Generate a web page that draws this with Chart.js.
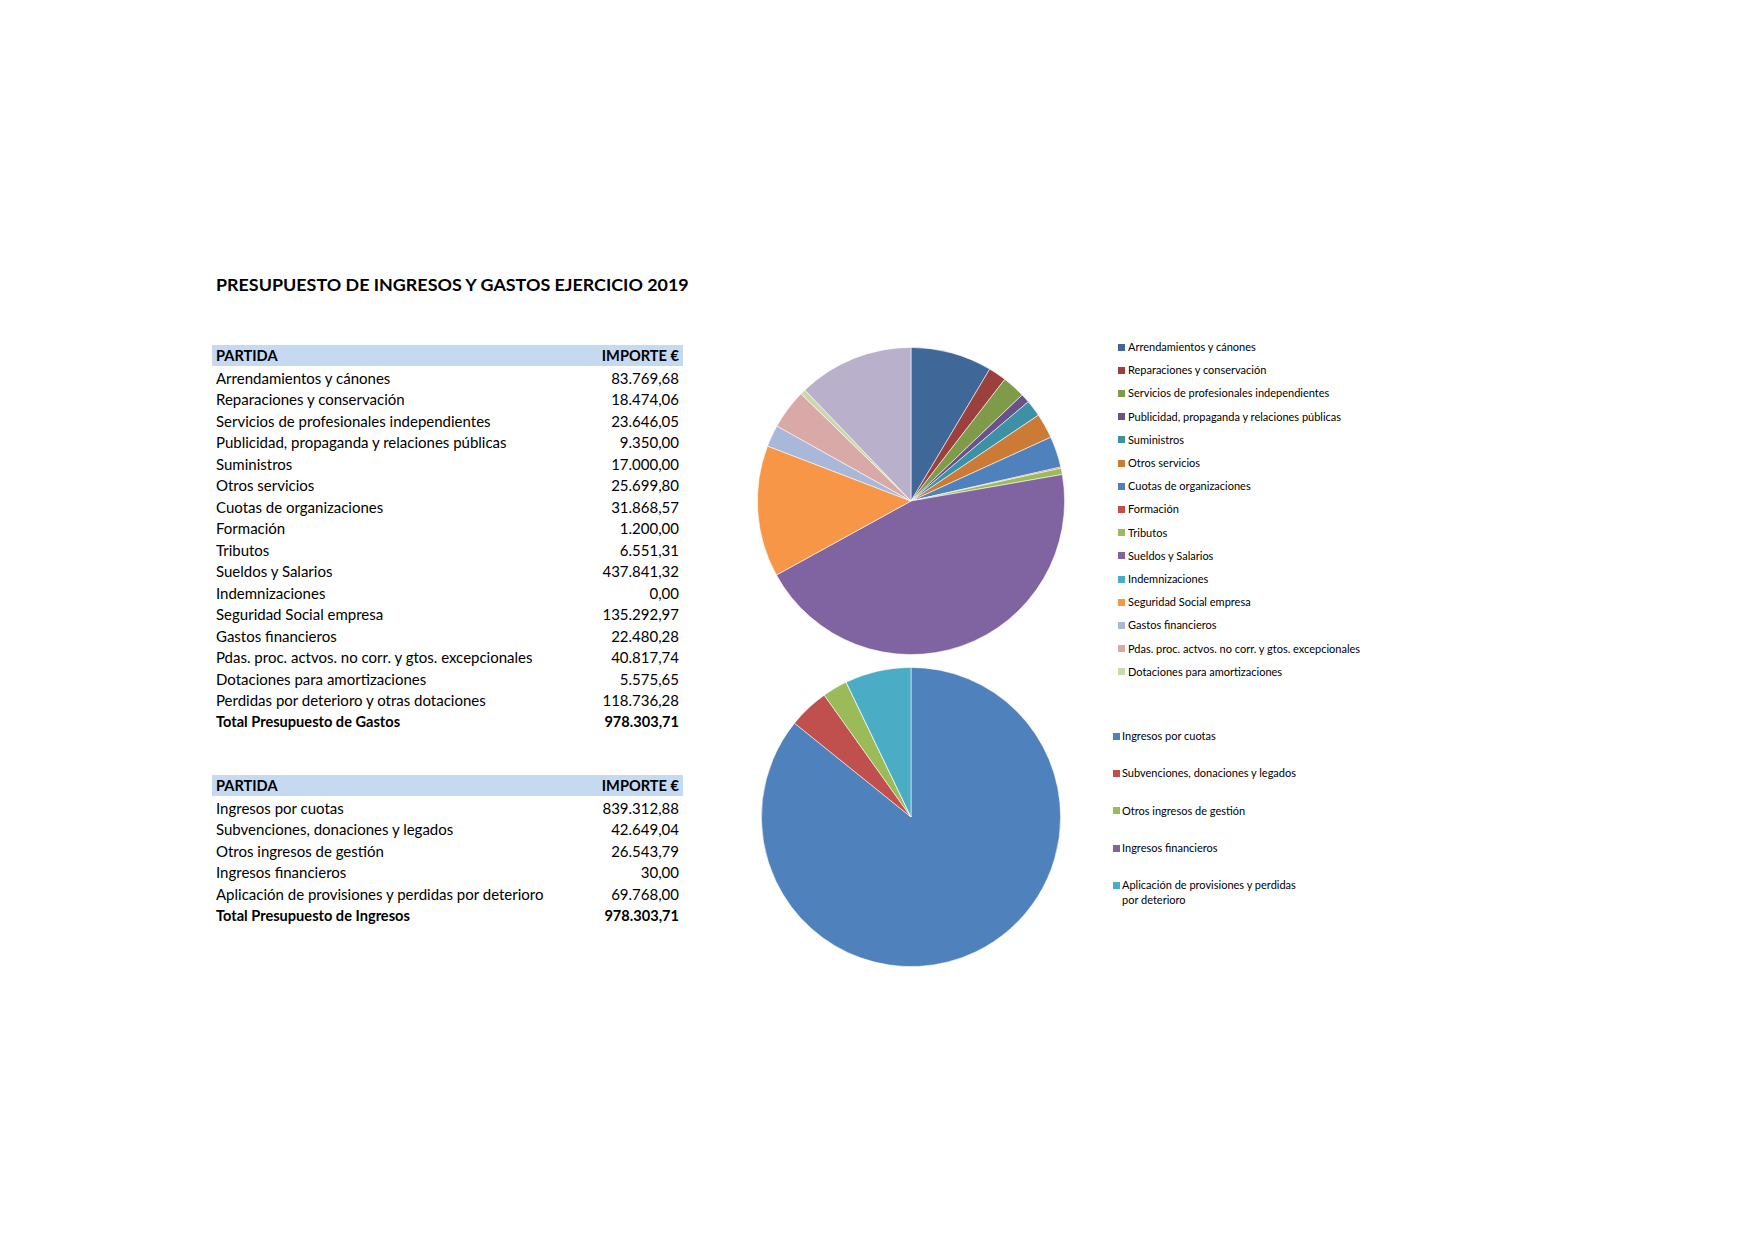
<!DOCTYPE html>
<html>
<head>
<meta charset="utf-8">
<script src="https://cdn.jsdelivr.net/npm/chart.js@4"></script>
<style>
  body { margin: 0; width: 1754px; height: 1240px; background: #fff; position: relative; font-family: Lato, "Open Sans", sans-serif; color: #000; }
  .abs { position: absolute; }
  #title { left: 216px; top: 274px; font-size: 17.9px; font-weight: bold; line-height: 20px; white-space: nowrap; }
  .band { position: absolute; left: 212px; width: 471px; height: 21px; background: #c5d9f1; }
  .row { position: absolute; left: 216px; width: 463px; height: 22px; line-height: 22px; font-size: 15px; white-space: nowrap; }
  .row span { position: absolute; right: 0; }
  .row.b { font-weight: bold; font-size: 14.6px; }
  .lg { position: absolute; font-size: 11px; white-space: normal; }
  .lg i { position: absolute; left: 0; width: 7px; height: 7px; }
</style>
</head>
<body>
<div id="title" class="abs">PRESUPUESTO DE INGRESOS Y GASTOS EJERCICIO 2019</div>
<div id="tables"></div>
<canvas id="pieGastos" class="abs" style="left:753px;top:343px;width:316px;height:316px"></canvas>
<canvas id="pieIngresos" class="abs" style="left:757px;top:663px;width:308px;height:308px"></canvas>
<div id="legendGastos" class="abs" style="left:1118px;top:340px"></div>
<div id="legendIngresos" class="abs" style="left:1113px;top:729px"></div>
<script>
const gastosLabels = [
  'Arrendamientos y cánones',
  'Reparaciones y conservación',
  'Servicios de profesionales independientes',
  'Publicidad, propaganda y relaciones públicas',
  'Suministros',
  'Otros servicios',
  'Cuotas de organizaciones',
  'Formación',
  'Tributos',
  'Sueldos y Salarios',
  'Indemnizaciones',
  'Seguridad Social empresa',
  'Gastos financieros',
  'Pdas. proc. actvos. no corr. y gtos. excepcionales',
  'Dotaciones para amortizaciones',
  'Perdidas por deterioro y otras dotaciones'
];
const gastosValues = [83769.68, 18474.06, 23646.05, 9350.00, 17000.00, 25699.80, 31868.57, 1200.00,
  6551.31, 437841.32, 0.00, 135292.97, 22480.28, 40817.74, 5575.65, 118736.28];
const gastosColors = ['#3f6899', '#9c403d', '#7f9a48', '#69518a', '#3c91a6', '#cb7b35',
  '#4f81bd', '#c0504d', '#9bbb59', '#8064a2', '#4bacc6', '#f79646',
  '#a9b8d8', '#d9a9a8', '#c9d9ad', '#b9b0cb'];

const ingresosLabels = [
  'Ingresos por cuotas',
  'Subvenciones, donaciones y legados',
  'Otros ingresos de gestión',
  'Ingresos financieros',
  'Aplicación de provisiones y perdidas por deterioro'
];
const ingresosValues = [839312.88, 42649.04, 26543.79, 30.00, 69768.00];
const ingresosColors = ['#4f81bd', '#c0504d', '#9bbb59', '#8064a2', '#4bacc6'];

function fmt(v) {
  const parts = v.toFixed(2).split('.');
  return parts[0].replace(/\B(?=(\d{3})+(?!\d))/g, '.') + ',' + parts[1];
}

// tablas
const tables = document.getElementById('tables');
function addRow(top, text, value, bold) {
  const d = document.createElement('div');
  d.className = 'row' + (bold ? ' b' : '');
  d.style.top = top + 'px';
  d.textContent = text;
  const s = document.createElement('span');
  s.textContent = value;
  d.appendChild(s);
  tables.appendChild(d);
}
function addTable(bandTop, firstCenter, step, labels, values, totalText) {
  const band = document.createElement('div');
  band.className = 'band';
  band.style.top = bandTop + 'px';
  tables.appendChild(band);
  addRow(bandTop - 0.5, 'PARTIDA', 'IMPORTE €', true);
  labels.forEach((l, i) => addRow(firstCenter + i * step - 11.5, l, fmt(values[i]), false));
  const total = values.reduce((a, b) => a + b, 0);
  addRow(firstCenter + labels.length * step - 11.5, totalText, fmt(total), true);
}
addTable(345, 378, 21.5, gastosLabels, gastosValues, 'Total Presupuesto de Gastos');
addTable(775, 808, 21.6, ingresosLabels, ingresosValues, 'Total Presupuesto de Ingresos');

// leyenda html
const htmlLegend = {
  id: 'htmlLegend',
  afterUpdate(chart, args, opts) {
    const box = document.getElementById(opts.containerID);
    box.innerHTML = '';
    const items = chart.options.plugins.legend.labels.generateLabels(chart)
      .filter(it => it.index < opts.count);
    items.forEach((it, i) => {
      const row = document.createElement('div');
      row.className = 'lg';
      row.style.top = (i * opts.step) + 'px';
      row.style.lineHeight = opts.lineHeight + 'px';
      row.style.paddingLeft = opts.textX + 'px';
      row.style.width = opts.textWidth + 'px';
      const m = document.createElement('i');
      m.style.background = it.fillStyle;
      m.style.top = ((opts.lineHeight - 7) / 2) + 'px';
      row.appendChild(m);
      row.appendChild(document.createTextNode(it.text));
      box.appendChild(row);
    });
  }
};

function pie(id, labels, values, colors, legend) {
  return new Chart(document.getElementById(id), {
    type: 'pie',
    data: {
      labels: labels,
      datasets: [{
        data: values,
        backgroundColor: colors,
        borderColor: 'rgba(255,255,255,0.7)',
        borderWidth: 0.8
      }]
    },
    options: {
      responsive: false,
      animation: false,
      layout: { padding: 4 },
      plugins: {
        legend: { display: false },
        tooltip: { enabled: false },
        htmlLegend: legend
      }
    },
    plugins: [htmlLegend]
  });
}

pie('pieGastos', gastosLabels, gastosValues, gastosColors,
  { containerID: 'legendGastos', count: 15, step: 23.2, lineHeight: 14, textX: 10, textWidth: 300 });
pie('pieIngresos', ingresosLabels, ingresosValues, ingresosColors,
  { containerID: 'legendIngresos', count: 5, step: 37.3, lineHeight: 14.5, textX: 9, textWidth: 190 });
</script>
</body>
</html>
